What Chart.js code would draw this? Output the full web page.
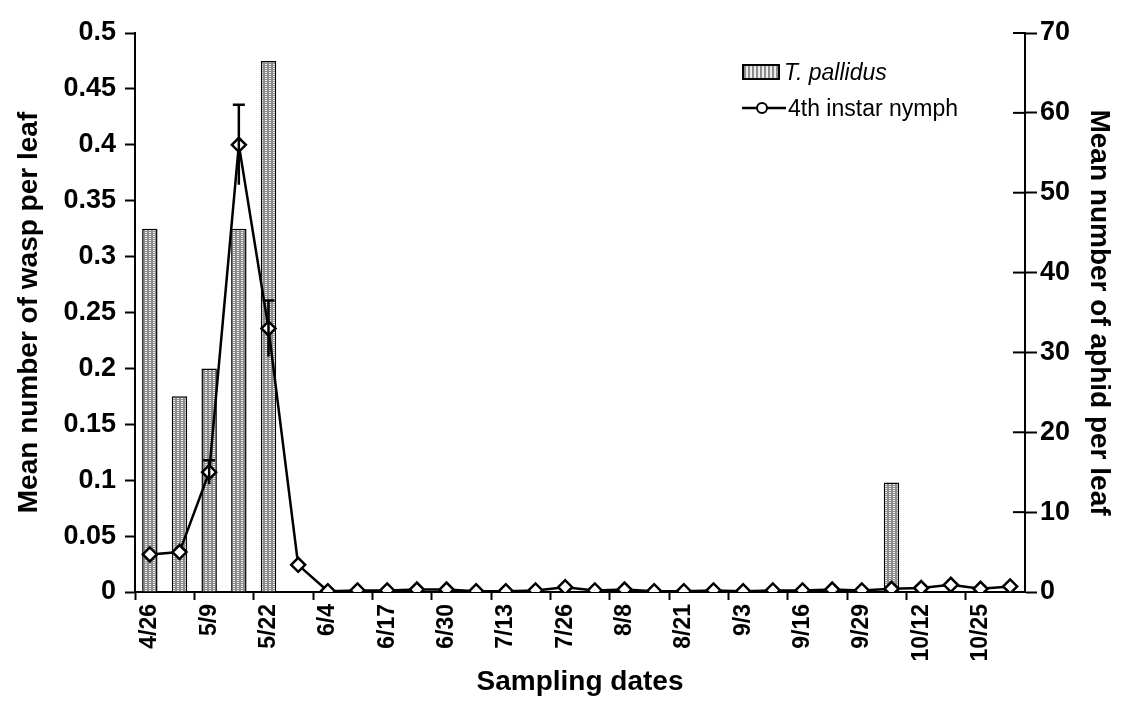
<!DOCTYPE html>
<html>
<head>
<meta charset="utf-8">
<script src="https://cdn.jsdelivr.net/npm/chart.js@4"></script>
<style>
  body { margin: 0; background: #fff; }
  #wrap { position: relative; width: 1128px; height: 717px; }
  #legend { position: absolute; left: 742px; top: 54px; font-family: Arial, "Liberation Sans", sans-serif; font-size: 23px; color: #000; }
  #legend div { height: 36px; display: flex; align-items: center; }
  .swatch { width: 38px; height: 16px; border: 2px solid #000; margin-right: 4px; box-sizing: border-box; }
</style>
</head>
<body>
<div id="wrap">
  <canvas id="chart" width="1128" height="717"></canvas>
  <div id="legend">
    <div><span class="swatch" id="sw"></span><i>T. pallidus</i></div>
    <div><svg width="44" height="14" style="margin-right:2px"><line x1="0" y1="7" x2="44" y2="7" stroke="#000" stroke-width="2.5"/><circle cx="20" cy="7" r="5" fill="#fff" stroke="#000" stroke-width="2"/></svg>4th instar nymph</div>
  </div>
</div>
<script>
// sampling dates (labels shown every other one)
const dates = ['4/26', '5/2', '5/9', '5/15', '5/22', '5/28', '6/4', '6/10', '6/17', '6/23',
  '6/30', '7/6', '7/13', '7/19', '7/26', '8/1', '8/8', '8/14', '8/21', '8/27',
  '9/3', '9/9', '9/16', '9/22', '9/29', '10/5', '10/12', '10/18', '10/25', '10/31'];

// T. pallidus, mean wasps per leaf (left axis)
const wasps = [0.325, 0.175, 0.2, 0.325, 0.475, 0, 0, 0, 0, 0,
  0, 0, 0, 0, 0, 0, 0, 0, 0, 0,
  0, 0, 0, 0, 0, 0.098, 0, 0, 0, 0];

// 4th instar nymph, mean aphids per leaf (right axis)
const nymphs = [4.7, 5.0, 15.0, 56.0, 33.0, 3.4, 0.1, 0.2, 0.2, 0.3,
  0.3, 0.1, 0.1, 0.2, 0.6, 0.2, 0.3, 0.1, 0.1, 0.2,
  0.1, 0.2, 0.2, 0.3, 0.2, 0.4, 0.5, 0.9, 0.4, 0.7];
const nymphErr = [0, 0, 1.5, 5, 3.5, 0, 0, 0, 0, 0,
  0, 0, 0, 0, 0, 0, 0, 0, 0, 0,
  0, 0, 0, 0, 0, 0, 0, 0, 0, 0];

const waspTicks = [0, 0.05, 0.1, 0.15, 0.2, 0.25, 0.3, 0.35, 0.4, 0.45, 0.5];
const aphidTicks = [0, 10, 20, 30, 40, 50, 60, 70];

const FONT = 'Arial, "Liberation Sans", sans-serif';

// grey dotted fill like the printed bars
function hatch() {
  const c = document.createElement('canvas');
  c.width = 4; c.height = 4;
  const g = c.getContext('2d');
  g.fillStyle = '#8c8c8c';
  g.fillRect(0, 0, 4, 4);
  g.fillStyle = '#f0f0f0';
  g.fillRect(1, 0, 2, 1);
  g.fillRect(1, 2, 2, 1);
  return c;
}
const pat = document.getElementById('chart').getContext('2d').createPattern(hatch(), 'repeat');
document.getElementById('sw').style.background = 'repeating-linear-gradient(90deg,#8c8c8c 0 2px,#eee 2px 4px)';

// error bars on the nymph line (cap on top only)
const errorBars = {
  id: 'errorBars',
  afterDatasetsDraw(chart) {
    const { ctx, scales } = chart;
    const meta = chart.getDatasetMeta(1);
    ctx.save();
    ctx.strokeStyle = '#000';
    ctx.lineWidth = 2.5;
    nymphErr.forEach((e, i) => {
      if (!e) return;
      const x = meta.data[i].x;
      const yTop = scales.y2.getPixelForValue(nymphs[i] + e);
      const yBot = scales.y2.getPixelForValue(Math.max(0, nymphs[i] - e));
      ctx.beginPath();
      ctx.moveTo(x, yTop); ctx.lineTo(x, yBot);
      ctx.moveTo(x - 6, yTop); ctx.lineTo(x + 6, yTop);
      ctx.stroke();
    });
    ctx.restore();
  }
};

// right axis ticks cross the axis line
const innerTicks = {
  id: 'innerTicks',
  afterDraw(chart) {
    const { ctx, scales } = chart;
    const s = scales.y2;
    ctx.save();
    ctx.strokeStyle = '#000';
    ctx.lineWidth = 2;
    s.ticks.forEach(t => {
      const y = s.getPixelForValue(t.value);
      ctx.beginPath();
      ctx.moveTo(s.left - 12, y); ctx.lineTo(s.left, y);
      ctx.stroke();
    });
    ctx.restore();
  }
};

new Chart(document.getElementById('chart'), {
  type: 'bar',
  data: {
    labels: dates,
    datasets: [{
      label: 'T. pallidus',
      data: wasps,
      yAxisID: 'y',
      backgroundColor: pat,
      borderColor: '#000',
      borderWidth: 1.5,
      barPercentage: 0.52,
      categoryPercentage: 1,
      order: 2
    }, {
      type: 'line',
      label: '4th instar nymph',
      data: nymphs,
      yAxisID: 'y2',
      borderColor: '#000',
      borderWidth: 2.5,
      pointStyle: 'rectRot',
      pointRadius: 7,
      pointBackgroundColor: '#fff',
      pointBorderColor: '#000',
      pointBorderWidth: 2.5,
      tension: 0,
      order: 1
    }]
  },
  options: {
    responsive: false,
    animation: false,
    layout: { padding: { top: 33, left: 8, right: 8, bottom: 14 } },
    plugins: { legend: { display: false }, tooltip: { enabled: false } },
    scales: {
      x: {
        offset: true,
        grid: {
          drawOnChartArea: false,
          offset: true,
          tickLength: 8,
          tickColor: ctx => (ctx.index % 2 === 0 ? '#000' : 'rgba(0,0,0,0)'),
          tickWidth: 2
        },
        border: { color: '#000', width: 2 },
        ticks: {
          autoSkip: false,
          maxRotation: 90,
          minRotation: 90,
          padding: 4,
          color: '#000',
          font: { family: FONT, size: 23, weight: 'bold' },
          callback: (v, i) => (i % 2 === 0 ? dates[i] : '')
        },
        title: { display: true, text: 'Sampling dates', color: '#000', font: { family: FONT, size: 28, weight: 'bold' }, padding: { top: 4, bottom: 4 } },
        afterFit: s => { s.height = 111; }
      },
      y: {
        position: 'left',
        min: 0, max: 0.5,
        afterBuildTicks: s => { s.ticks = waspTicks.map(v => ({ value: v })); },
        grid: { drawOnChartArea: false, tickLength: 10, tickColor: '#000', tickWidth: 2 },
        border: { color: '#000', width: 2 },
        ticks: { color: '#000', padding: 9, font: { family: FONT, size: 27, weight: 'bold' }, callback: v => String(v) },
        title: { display: true, text: 'Mean number of wasp per leaf', color: '#000', font: { family: FONT, size: 28, weight: 'bold' }, padding: 4 },
        afterFit: s => { s.width = 127; }
      },
      y2: {
        position: 'right',
        min: 0, max: 70,
        afterBuildTicks: s => { s.ticks = aphidTicks.map(v => ({ value: v })); },
        grid: { drawOnChartArea: false, tickLength: 12, tickColor: '#000', tickWidth: 2 },
        border: { color: '#000', width: 2 },
        ticks: { color: '#000', padding: 3, font: { family: FONT, size: 27, weight: 'bold' } },
        title: { display: true, text: 'Mean number of aphid per leaf', color: '#000', font: { family: FONT, size: 28, weight: 'bold' }, padding: 4 },
        afterFit: s => { s.width = 95; }
      }
    }
  },
  plugins: [errorBars, innerTicks]
});
</script>
</body>
</html>
